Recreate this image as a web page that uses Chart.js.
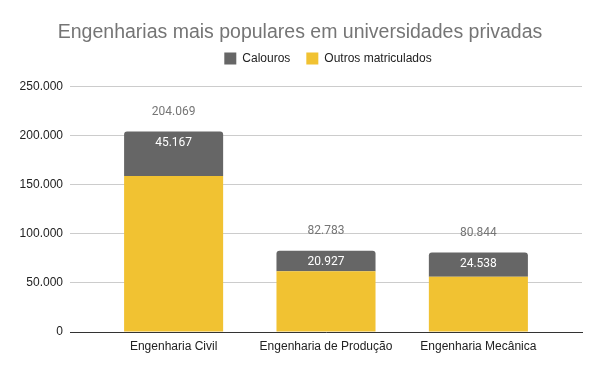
<!DOCTYPE html>
<html>
<head>
<meta charset="utf-8">
<script src="https://cdn.jsdelivr.net/npm/chart.js@4"></script>
<style>
  body { margin: 0; background: #fff; }
  #wrap { width: 600px; height: 371px; }
</style>
</head>
<body>
<div id="wrap"><canvas id="chart" width="600" height="371"></canvas></div>
<script>
var cursos = ['Engenharia Civil', 'Engenharia de Produção', 'Engenharia Mecânica'];
var calouros = [45167, 20927, 24538];
var outros = [158902, 61856, 56306];
var yTicks = [0, 50000, 100000, 150000, 200000, 250000];

function fmt(v) {
  return String(v).replace(/\B(?=(\d{3})+(?!\d))/g, '.');
}

// rotulos: valor dos calouros dentro da barra e total em cima
const rotulos = {
  id: 'rotulos',
  afterLayout(chart) {
    // legenda um pouco mais para a direita e para cima
    chart.legend.left += 28;
    chart.legend.right += 28;
    chart.legend.top -= 12;
  },
  afterDatasetsDraw(chart) {
    const ctx = chart.ctx;
    const meta = chart.getDatasetMeta(1);
    ctx.save();
    ctx.textAlign = 'center';
    ctx.textBaseline = 'middle';
    ctx.font = '12px Roboto';
    meta.data.forEach(function (bar, i) {
      ctx.fillStyle = '#ffffff';
      ctx.fillText(fmt(calouros[i]), bar.x, bar.y + 11);
      ctx.fillStyle = '#757575';
      ctx.fillText(fmt(calouros[i] + outros[i]), bar.x, bar.y - 20);
    });
    ctx.restore();
  }
};

const data = {
  datasets: [{
    label: 'Outros matriculados',
    data: outros.map(function (v, i) { return { x: i + 1, y: v }; }),
    backgroundColor: '#f1c232',
    borderWidth: 0
  }, {
    label: 'Calouros',
    data: calouros.map(function (v, i) { return { x: i + 1, y: v }; }),
    backgroundColor: '#666666',
    borderWidth: 0,
    borderRadius: { topLeft: 3, topRight: 3 },
    borderSkipped: 'bottom'
  }]
};

const config = {
  type: 'bar',
  data: data,
  options: {
    responsive: false,
    animation: false,
    barPercentage: 1,
    categoryPercentage: 0.65,
    layout: { padding: { left: 18, right: 18, top: 0, bottom: 0 } },
    plugins: {
      title: {
        display: true,
        text: 'Engenharias mais populares em universidades privadas',
        color: '#757575',
        font: { family: 'Liberation Sans', size: 19.5, weight: 'normal' },
        padding: { top: 21, bottom: 4 }
      },
      legend: {
        reverse: true,
        labels: {
          color: '#222222',
          font: { family: 'Liberation Sans', size: 12 },
          boxWidth: 12,
          boxHeight: 12,
          padding: 16
        }
      },
      tooltip: { enabled: false }
    },
    scales: {
      x: {
        type: 'linear',
        stacked: true,
        offset: false,
        min: 0.32,
        max: 3.68,
        grid: { display: false, drawTicks: false },
        border: { display: true, color: '#333333', width: 1 },
        afterBuildTicks: function (scale) {
          scale.ticks = cursos.map(function (c, i) { return { value: i + 1 }; });
        },
        afterFit: function (scale) { scale.height = 39; },
        ticks: {
          autoSkip: false,
          maxRotation: 0,
          padding: 7,
          color: '#222222',
          font: { family: 'Liberation Sans', size: 12 },
          callback: function (v) { return cursos[v - 1]; }
        }
      },
      y: {
        stacked: true,
        min: 0,
        max: 250000,
        grid: { color: '#cccccc', drawTicks: false },
        border: { display: false },
        afterBuildTicks: function (scale) {
          scale.ticks = yTicks.map(function (v) { return { value: v }; });
        },
        afterFit: function (scale) { scale.width = 52; },
        ticks: {
          padding: 7,
          color: '#222222',
          font: { family: 'Liberation Sans', size: 12 },
          callback: function (v) { return fmt(v); }
        }
      }
    }
  },
  plugins: [rotulos]
};

const myChart = new Chart(document.getElementById('chart'), config);
</script>
</body>
</html>
